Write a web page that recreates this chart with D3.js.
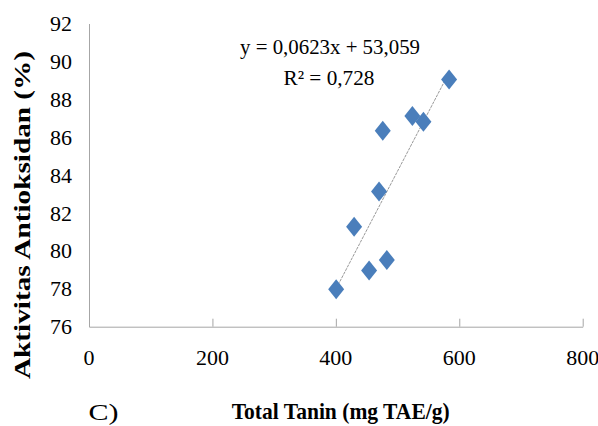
<!DOCTYPE html>
<html>
<head>
<meta charset="utf-8">
<script src="https://cdn.jsdelivr.net/npm/d3@7"></script>
<style>
  html, body { margin: 0; padding: 0; background: #fff; }
  svg { display: block; }
</style>
</head>
<body>
<svg id="chart" width="598" height="426"></svg>
<script>
// Total tannin (mg TAE/g) against antioxidant activity (%)
const tanin = [400.5, 429.6, 453.9, 470, 476, 482.6, 524, 541.9, 583.5];
const aktivitas = [77.97, 81.28, 78.96, 83.14, 86.34, 79.52, 87.12, 86.82, 89.05];

// linear trend line reported for the series
const slope = 0.0623;
const intercept = 53.059;
const eqLabel = "y = 0,0623x + 53,059";
const r2Label = "R\u00b2 = 0,728";

const xTicks = [0, 200, 400, 600, 800];
const yTicks = [76, 78, 80, 82, 84, 86, 88, 90, 92];

const xTitle = "Total Tanin (mg TAE/g)";
const yTitle = "Aktivitas Antioksidan (%)";
const panelLabel = "C)";

const serif = "'Liberation Serif', 'Times New Roman', Times, serif";
const svg = d3.select("#chart");
const axisColor = "#a6a6a6";

const x = d3.scaleLinear().domain([0, 800]).range([89, 582.7]);
const y = d3.scaleLinear().domain([76, 92]).range([326.7, 23.5]);

// x axis: baseline with short inward ticks
const xAxis = svg.append("g").attr("transform", `translate(0,${y(76)})`)
  .call(d3.axisBottom(x).tickValues(xTicks).tickSizeInner(-8).tickSizeOuter(0).tickPadding(0).tickFormat(""));
xAxis.select(".domain").attr("stroke", axisColor);
xAxis.selectAll(".tick line").attr("stroke", axisColor).filter(d => d === 0).remove();

const labels = svg.append("g").attr("font-family", serif).attr("fill", "#000");

labels.append("g").selectAll("text").data(xTicks).join("text")
  .attr("font-family", serif)
  .attr("x", d => x(d)).attr("y", 365)
  .attr("text-anchor", "middle").attr("font-size", 22)
  .text(d => d);

// y axis: line only, labels on the left
const yAxis = svg.append("g").attr("transform", `translate(${x(0)},0)`)
  .call(d3.axisLeft(y).tickValues(yTicks).tickSize(0).tickFormat(""));
yAxis.select(".domain").attr("stroke", axisColor);

labels.append("g").selectAll("text").data(yTicks).join("text")
  .attr("font-family", serif)
  .attr("x", 72).attr("y", d => y(d) + 7.5)
  .attr("text-anchor", "end").attr("font-size", 22)
  .text(d => d);

// trend line over the range of the data
const [xmin, xmax] = d3.extent(tanin);
svg.append("line")
  .attr("x1", x(xmin)).attr("y1", y(slope * xmin + intercept))
  .attr("x2", x(xmax)).attr("y2", y(slope * xmax + intercept))
  .attr("stroke", "#8c8c8c").attr("stroke-width", 0.9)
  .attr("stroke-dasharray", "3,1");

// diamond markers
const diamond = d3.line()([[0, -10], [8, 0], [0, 10], [-8, 0]]) + "Z";
svg.append("g").selectAll("path").data(tanin).join("path")
  .attr("d", diamond)
  .attr("transform", (d, i) => `translate(${x(d)},${y(aktivitas[i])})`)
  .attr("fill", "#4a7ebb");

// regression equation
labels.append("text").attr("font-family", serif).attr("x", 240).attr("y", 54.3)
  .attr("font-size", 22).attr("textLength", 180).attr("lengthAdjust", "spacingAndGlyphs")
  .text(eqLabel);
labels.append("text").attr("font-family", serif).attr("x", 283.5).attr("y", 85)
  .attr("font-size", 22).attr("textLength", 91).attr("lengthAdjust", "spacingAndGlyphs")
  .text(r2Label);

// axis titles
labels.append("text").attr("font-family", serif).attr("x", 231.7).attr("y", 419)
  .attr("font-size", 22.5).attr("font-weight", "bold")
  .attr("textLength", 218).attr("lengthAdjust", "spacingAndGlyphs")
  .text(xTitle);

labels.append("text").attr("font-family", serif)
  .attr("transform", "translate(29.5,379) rotate(-90)")
  .attr("font-size", 23).attr("font-weight", "bold")
  .attr("textLength", 328).attr("lengthAdjust", "spacingAndGlyphs")
  .text(yTitle);

labels.append("text").attr("font-family", serif).attr("x", 88.5).attr("y", 420)
  .attr("font-size", 24).attr("textLength", 30).attr("lengthAdjust", "spacingAndGlyphs")
  .text(panelLabel);
</script>
</body>
</html>
